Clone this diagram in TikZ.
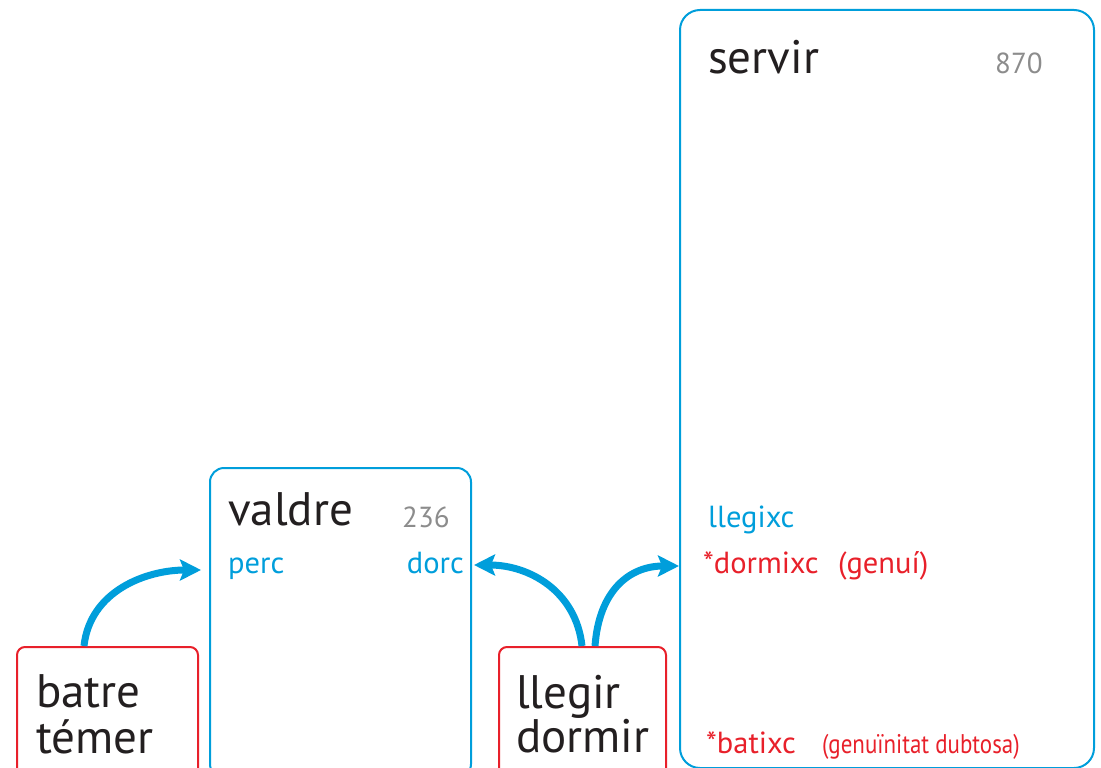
\documentclass[tikz,border=0pt]{standalone}
\usepackage{fontspec}
\setmainfont{PT Sans}
\usetikzlibrary{arrows.meta,calc}
\definecolor{cblue}{RGB}{0,158,219}
\definecolor{cred}{RGB}{232,32,42}
\definecolor{cgray}{RGB}{140,140,140}
\definecolor{cblack}{RGB}{35,31,32}
\tikzset{
  bluebox/.style={draw=cblue,line width=2pt,rounded corners=#1,inner sep=0pt,anchor=north west},
  redbox/.style={draw=cred,line width=2pt,rounded corners=8pt,inner sep=0pt,anchor=north west},
  bigword/.style={anchor=base west,inner sep=0pt,text=cblack,font=\fontsize{47}{47}\selectfont},
  numlabel/.style={anchor=base west,inner sep=0pt,text=cgray,font=\fontsize{29}{29}\selectfont},
  bluelabel/.style={anchor=base west,inner sep=0pt,text=cblue,font=\fontsize{30.5}{30.5}\selectfont},
  redlabel/.style={anchor=base west,inner sep=0pt,text=cred,font=\fontsize{30.5}{30.5}\selectfont},
  bluearrow/.style={draw=cblue,line width=7pt,-{Stealth[length=21pt,width=21pt,inset=4pt]}},
}
\begin{document}
\begin{tikzpicture}[x=1pt,y=-1pt]
\useasboundingbox (0,0) rectangle (1101,768);
% boxes
\node[bluebox=20pt,minimum width=414pt,minimum height=758pt] (servir) at (679,9) {};
\node[bluebox=14pt,minimum width=261pt,minimum height=310pt] (valdre) at (209,467) {};
\node[redbox,minimum width=181pt,minimum height=130pt] (batre) at (16,646) {};
\node[redbox,minimum width=167pt,minimum height=130pt] (llegir) at (498,646) {};
% texts
\node[bigword] (tbatre) at (36,707) {batre};
\node[bigword] (ttemer) at (36,753) {témer};
\node[bigword] (tllegir) at (516,708) {llegir};
\node[bigword] (tdormir) at (516,752) {dormir};
\node[bigword] (tvaldre) at (228,525) {valdre};
\node[numlabel] (n236) at (402,527) {236};
\node[bluelabel] (tperc) at (228,573) {perc};
\node[bluelabel,anchor=base east] (tdorc) at (464,573) {dorc};
\node[bigword] (tservir) at (708,74) {servir};
\node[numlabel] (n870) at (995,74) {870};
\node[bluelabel] (tllegixc) at (708,527) {llegixc};
\node[redlabel] (tdormixc) at (703,573) {*dormixc};
\node[redlabel] (tgenui) at (838,573) {(genuí)};
\node[redlabel] (tbatixc) at (706,753) {*batixc};
\node[redlabel,font=\fontsize{27}{27}\selectfont] (tdubt) at (822,753) {\scalebox{0.85}[1]{(genuïnitat dubtosa)}};
% arrows
\draw[bluearrow] ($(batre.north west)+(68,0)$) .. controls +(6,-55) and +(-55,0) .. ($(valdre.north west)+(-8,103)$);
\draw[bluearrow] ($(llegir.north west)+(84,0)$) .. controls +(-6,-55) and +(55,0) .. ($(valdre.north east)+(2,98)$);
\draw[bluearrow] ($(llegir.north west)+(97,0)$) .. controls +(4,-55) and +(-50,0) .. ($(servir.north west)+(0,557)$);
\end{tikzpicture}
\end{document}
